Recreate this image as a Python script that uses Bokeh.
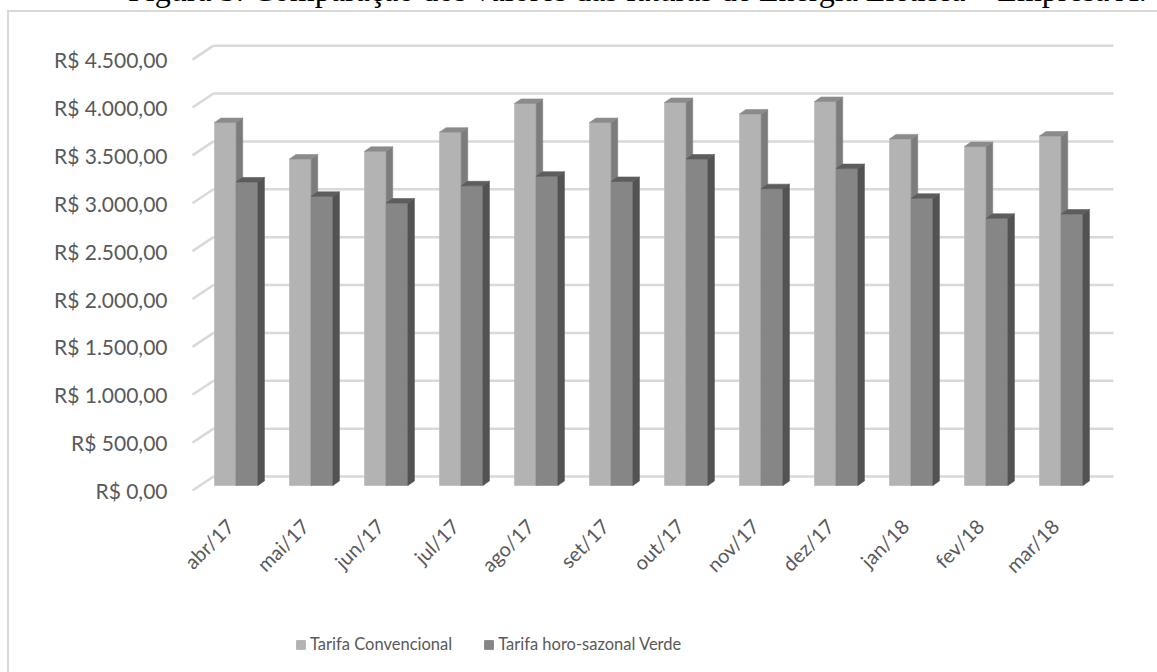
from math import pi

from bokeh.embed import file_html
from bokeh.layouts import column
from bokeh.models import Div, FixedTicker, InlineStyleSheet, Legend, LegendItem, Range1d
from bokeh.plotting import figure
from bokeh.resources import INLINE

# ---- data -------------------------------------------------------------
categories = ["abr/17", "mai/17", "jun/17", "jul/17", "ago/17", "set/17",
              "out/17", "nov/17", "dez/17", "jan/18", "fev/18", "mar/18"]
convencional = [3790, 3410, 3490, 3690, 3990, 3790, 4000, 3880, 4010, 3620, 3540, 3650]
horo_verde = [3170, 3020, 2950, 3130, 3230, 3175, 3410, 3100, 3310, 3000, 2790, 2835]
series_names = ["Tarifa Convencional", "Tarifa horo-sazonal Verde"]
y_ticks = [0, 500, 1000, 1500, 2000, 2500, 3000, 3500, 4000, 4500]
y_tick_labels = ["R$ 0,00", "R$ 500,00", "R$ 1.000,00", "R$ 1.500,00", "R$ 2.000,00",
                 "R$ 2.500,00", "R$ 3.000,00", "R$ 3.500,00", "R$ 4.000,00", "R$ 4.500,00"]
title_text = "Figura 5: Comparação dos valores das faturas de Energia Elétrica \u2013 Empresa A."

# ---- page geometry ------------------------------------------------------
W, H = 1157, 672
TITLE_H, LEGEND_H = 14, 72
MAIN_H = H - TITLE_H - LEGEND_H

TEXT = "#595959"
GRID = "#d9d9d9"
FONT = "Lato"


def bare(fig):
    fig.outline_line_color = None
    fig.xgrid.visible = False
    fig.ygrid.visible = False
    fig.border_fill_color = "white"
    fig.background_fill_color = "white"
    return fig


# ---- caption (runs off the top edge of the page) --------------------------
cap = Div(text=title_text, width=W, height=TITLE_H, margin=0,
          styles={"font-family": "'Liberation Serif', 'Times New Roman', serif",
                  "font-size": "32px", "line-height": "32px", "color": "black",
                  "white-space": "nowrap", "position": "relative",
                  "top": "-26px", "left": "128px", "overflow": "visible"})

# ---- main chart: projection of the 3-D column chart ------------------------
FL, FR, FT, FB = 180, 1130, 30 - TITLE_H, 505 - TITLE_H   # frame edges (local px)
PX_X = 75.0                                   # pixels per category
PX_Y = 0.09575                                # pixels per R$
X0_PX, Y0_PX = 229.5, 490.0 - TITLE_H         # local position of (0, 0) on the axis plane

WALL_DX, WALL_DY = 21 / PX_X, 14 / PX_Y       # axis plane -> back wall
BAR_SHIFT, BAR_BASE = 6.2 / PX_X, 5 / PX_Y    # axis plane -> bar front faces
BAR_W = 21.7 / PX_X
DEPTH_DX, DEPTH_DY = 6.5 / PX_X, 4.5 / PX_Y   # bar depth

p = bare(figure(width=W, height=MAIN_H,
                x_range=Range1d((FL - X0_PX) / PX_X, (FR - X0_PX) / PX_X),
                y_range=Range1d((Y0_PX - FB) / PX_Y, (Y0_PX - FT) / PX_Y),
                min_border_left=FL, min_border_right=W - FR,
                min_border_top=FT, min_border_bottom=MAIN_H - FB,
                output_backend="svg", toolbar_location=None))

n = len(categories)
wall_left = -0.5 + WALL_DX
wall_right = n - 0.5 + WALL_DX
p.segment(x0=[wall_left] * len(y_ticks), y0=[v + WALL_DY for v in y_ticks],
          x1=[wall_right] * len(y_ticks), y1=[v + WALL_DY for v in y_ticks],
          line_color=GRID, line_width=2.5)
p.segment(x0=[-0.5] * len(y_ticks), y0=y_ticks,
          x1=[wall_left] * len(y_ticks), y1=[v + WALL_DY for v in y_ticks],
          line_color=GRID, line_width=2.5)


def faces(values, offset):
    front, side, top = ([], []), ([], []), ([], [])
    for i, v in enumerate(values):
        x0 = i + BAR_SHIFT + offset
        x1 = x0 + BAR_W
        yb, yt = BAR_BASE, BAR_BASE + v
        front[0].append([x0, x1, x1, x0])
        front[1].append([yb, yb, yt, yt])
        side[0].append([x1, x1 + DEPTH_DX, x1 + DEPTH_DX, x1])
        side[1].append([yb, yb + DEPTH_DY, yt + DEPTH_DY, yt])
        top[0].append([x0, x1, x1 + DEPTH_DX, x0 + DEPTH_DX])
        top[1].append([yt, yt, yt + DEPTH_DY, yt + DEPTH_DY])
    return front, side, top


series = [
    (convencional, -BAR_W, ("#b3b3b3", "#7c7c7c", "#8b8b8b")),
    (horo_verde, 0.0, ("#868686", "#535353", "#5d5d5d")),
]
for values, offset, colors in series:
    for (xs, ys), col in zip(faces(values, offset), colors):
        p.patches(xs=xs, ys=ys, fill_color=col, line_color=col, line_width=0.6)

p.yaxis.ticker = FixedTicker(ticks=y_ticks)
p.yaxis.major_label_overrides = dict(zip(y_ticks, y_tick_labels))
p.xaxis.ticker = FixedTicker(ticks=list(range(n)))
p.xaxis.major_label_overrides = dict(zip(range(n), categories))
p.xaxis.major_label_orientation = pi / 4
for ax in (p.xaxis, p.yaxis):
    ax.axis_line_color = None
    ax.major_tick_line_color = None
    ax.minor_tick_line_color = None
    ax.major_label_text_color = TEXT
    ax.major_label_text_font = FONT
p.yaxis.major_label_text_font_size = "21px"
p.yaxis.major_label_standoff = 7
p.xaxis.major_label_text_font_size = "20px"
p.xaxis.major_label_standoff = 11

# ---- legend strip (its frame lines up with the chart frame) ---------------
lg = bare(figure(width=W, height=LEGEND_H, x_range=Range1d(0, 1), y_range=Range1d(0, 1),
                 min_border=0, output_backend="svg", toolbar_location=None))
lg.axis.visible = False
nan = float("nan")
swatches = [lg.patches(xs=[[nan]], ys=[[nan]], fill_color=c[0], line_color=c[0])
            for _, _, c in series]
legend = Legend(items=[LegendItem(label=name, renderers=[r])
                       for name, r in zip(series_names, swatches)],
                orientation="horizontal", location=(295 - FL, 18),
                label_text_font=FONT, label_text_font_size="16.5px",
                label_text_color=TEXT, glyph_width=11, glyph_height=11,
                label_standoff=4, spacing=31, padding=0, margin=0,
                border_line_color=None, background_fill_alpha=0)
lg.add_layout(legend, "center")

page = column(cap, p, lg, spacing=0)
# light frame line of the chart area (its left and top edges fall on the page)
page.stylesheets = [InlineStyleSheet(css=(
    ":host { position: relative; overflow: hidden; }"
    ":host::after { content: ''; position: absolute; left: 7px; top: 10px;"
    " width: 1400px; height: 900px; border: none;"
    " border-left: 2px solid #d9d9d9; border-top: 2px solid #d9d9d9;"
    " pointer-events: none; }"))]

open("out.html", "w").write(file_html(page, INLINE))
